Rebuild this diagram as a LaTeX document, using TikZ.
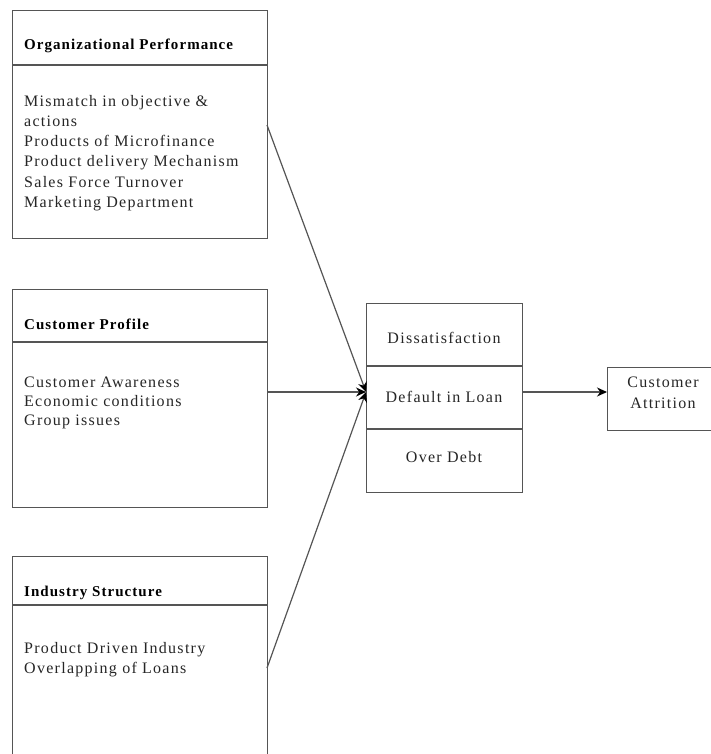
\documentclass[tikz,border=0pt]{standalone}
\usepackage{fontspec}
\setmainfont{Liberation Serif}
\newfontfamily\bodyfont[LetterSpace=8]{Liberation Serif}
\newfontfamily\headfont[LetterSpace=7]{Liberation Serif Bold}
\usetikzlibrary{arrows.meta}
\definecolor{linecol}{HTML}{555555}
\definecolor{textcol}{HTML}{262626}
\tikzset{
  box/.style={draw=linecol, line width=1.3pt, inner sep=0pt, anchor=north west, fill=white},
  divider/.style={draw=linecol, line width=1.3pt},
  txt/.style={anchor=base west, inner sep=0pt, text=textcol, font=\bodyfont\fontsize{16}{20}\selectfont},
  ctxt/.style={anchor=base, inner sep=0pt, text=textcol, font=\bodyfont\fontsize{16}{20}\selectfont},
  head/.style={anchor=base west, inner sep=0pt, text=black, font=\headfont\fontsize{15}{18}\selectfont},
  arr/.style={draw=linecol, line width=1.2pt, -{Stealth[length=10pt,width=9pt,color=black]}}
}
\begin{document}
\begin{tikzpicture}[x=1pt,y=-1pt]
\clip (0,0) rectangle (711,754);
\fill[white] (0,0) rectangle (711,754);
% Box 1
\node[box, minimum width=255pt, minimum height=228pt] (op) at (12,10) {};
\draw[divider] (12,65) -- (267,65);
\node[head] (oph) at (24,50) {Organizational Performance};
\node[txt] (op1) at (24,107) {Mismatch in objective \&};
\node[txt] (op2) at (24,127) {actions};
\node[txt] (op3) at (24,147) {Products of Microfinance};
\node[txt] (op4) at (24,167) {Product delivery Mechanism};
\node[txt] (op5) at (24,187) {Sales Force Turnover};
\node[txt] (op6) at (24,207) {Marketing Department};
% Box 2
\node[box, minimum width=255pt, minimum height=218pt] (cp) at (12,289) {};
\draw[divider] (12,342) -- (267,342);
\node[head] (cph) at (24,329) {Customer Profile};
\node[txt] (cp1) at (24,387) {Customer Awareness};
\node[txt] (cp2) at (24,406) {Economic conditions};
\node[txt] (cp3) at (24,425) {Group issues};
% Box 3
\node[box, minimum width=255pt, minimum height=220pt] (is) at (12,556) {};
\draw[divider] (12,605) -- (267,605);
\node[head] (ish) at (24,596) {Industry Structure};
\node[txt] (is1) at (24,653) {Product Driven Industry};
\node[txt] (is2) at (24,673) {Overlapping of Loans};
% Middle box
\node[box, minimum width=156pt, minimum height=189pt] (mid) at (366,303) {};
\draw[divider] (366,366) -- (522,366);
\draw[divider] (366,429) -- (522,429);
\node[ctxt] (m1) at (444,343) {Dissatisfaction};
\node[ctxt] (m2) at (444,402) {Default in Loan};
\node[ctxt] (m3) at (444,462) {Over Debt};
% Right box
\node[box, minimum width=110pt, minimum height=63pt] (ca) at (607,367) {};
\node[ctxt] (ca1) at (663,387) {Customer};
\node[ctxt] (ca2) at (663,408) {Attrition};
% connectors
\coordinate (s1) at (267,125);
\coordinate (s2) at (267,392);
\coordinate (s3) at (267,668);
\coordinate (t) at (366,392);
\coordinate (s4) at (522,392);
\coordinate (t2) at (607,392);
\draw[arr] (s1) -- (t);
\draw[arr] (s2) -- (t);
\draw[arr] (s3) -- (t);
\draw[arr] (s4) -- (t2);
\end{tikzpicture}
\end{document}
